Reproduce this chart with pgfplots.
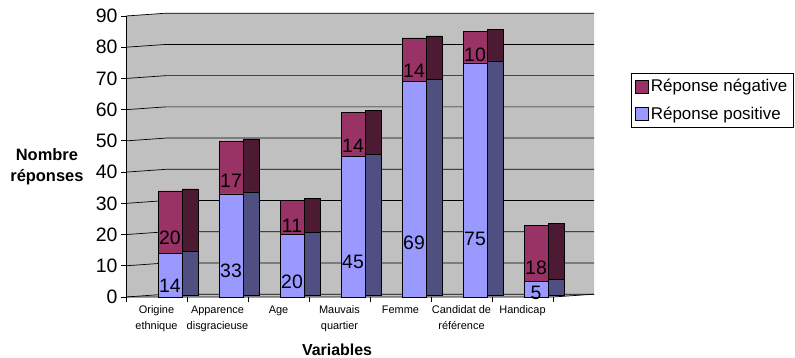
\documentclass[border=0pt]{standalone}
\usepackage{fontspec}
\setmainfont{Liberation Sans}
\usepackage{pgfplots}
\usepackage{pgfplotstable}
\pgfplotsset{compat=1.18}
\pgfkeys{/pgf/number format/assume math mode=true}

\definecolor{wall}{HTML}{C0C0C0}
\definecolor{posfront}{HTML}{9999FF}
\definecolor{posside}{HTML}{4F4F82}
\definecolor{negfront}{HTML}{993366}
\definecolor{negside}{HTML}{4D1A33}

% positive / negative answers per variable
\pgfplotstableread{
idx pos neg
0   14  20
1   33  17
2   20  11
3   45  14
4   69  14
5   75  10
6    5  18
}\reponses

\pgfplotsset{
  frame3d/.style={
    scale only axis, width=468bp, height=281bp, anchor=south west,
    xmin=-0.5, xmax=7.172, ymin=0, ymax=90, clip=false},
}

\begin{document}
\begin{tikzpicture}
\path[use as bounding box] (0,0) rectangle (795bp,-358bp);

% back wall, floor and gridlines with their depth offset
\begin{axis}[frame3d, at={(126bp,-297bp)}, hide axis]
  \fill[wall] (axis cs:-0.5,0) -- (axis cs:-0.5,90) -- (axis cs:0.156,90.9)
    -- (axis cs:7.172,90.9) -- (axis cs:7.172,0.9) -- (axis cs:6.5,0) -- cycle;
  \pgfplotsinvokeforeach{0,10,...,90}{
    \draw[black, line width=0.7bp] (axis cs:-0.5,#1) -- (axis cs:0.156,#1.9) -- (axis cs:7.172,#1.9);
  }
  \draw[black, line width=0.7bp] (axis cs:-0.5,0) -- (axis cs:6.5,0) -- (axis cs:7.172,0.9);
\end{axis}

% side faces of the columns
\begin{axis}[frame3d, at={(126bp,-295bp)}, hide axis, ybar stacked, bar width=16bp]
  \addplot[fill=posside, draw=black, line width=0.6bp, bar shift=33.5bp]
    table[x=idx, y=pos]{\reponses};
  \addplot[fill=negside, draw=black, line width=0.6bp, bar shift=33.5bp]
    table[x=idx, y=neg]{\reponses};
\end{axis}

% front faces, axes, labels and legend
\begin{axis}[frame3d, at={(126bp,-297bp)},
  ybar stacked, bar width=24bp,
  axis y line*=left, axis x line*=bottom,
  x axis line style={draw=none},
  y axis line style={black, line width=0.8bp},
  tick align=outside, major tick length=5bp, minor tick length=5bp,
  tick style={black, line width=0.8bp},
  ytick={0,10,...,90},
  yticklabel style={font=\fontsize{19.5}{21}\selectfont},
  xtick={0,1,2,3,4,5,6},
  xticklabels={{Origine\\ethnique},{Apparence\\disgracieuse},{Age},{Mauvais\\quartier},{Femme},{Candidat de\\référence},{Handicap}},
  xticklabel style={align=center, anchor=north, font=\fontsize{11}{16}\selectfont},
  major x tick style={draw=none},
  minor xtick={-0.5,0.5,...,6.5},
  xlabel={Variables},
  xlabel style={at={(axis description cs:0.451,-0.189)}, anchor=center,
    font=\bfseries\fontsize{16}{18}\selectfont},
  ylabel={Nombre\\réponses},
  ylabel style={at={(axis description cs:-0.169,0.463)}, rotate=-90, anchor=center,
    align=center, font=\bfseries\fontsize{16.5}{21}\selectfont},
  reverse legend,
  legend cell align=left,
  legend image code/.code={\draw[#1, draw=black, line width=0.6bp] (0bp,-6.5bp) rectangle (13bp,6.5bp);},
  legend style={at={(1.079,0.797)}, anchor=north west, draw=black, line width=0.6bp,
    font=\fontsize{17}{19}\selectfont, inner xsep=4bp, inner ysep=4bp, row sep=10bp},
  nodes near coords,
  point meta=explicit,
  nodes near coords style={font=\fontsize{19.5}{21}\selectfont, text=black},
]
  \addplot[fill=posfront, draw=black, line width=0.6bp, bar shift=13.5bp,
    visualization depends on={\thisrow{pos} \as \seg},
    every node near coord/.append style={anchor=center, yshift=-0.25*\seg*3.1222bp}]
    table[x=idx, y=pos, meta=pos]{\reponses};
  \addlegendentry{Réponse positive}
  \addplot[fill=negfront, draw=black, line width=0.6bp, bar shift=13.5bp,
    visualization depends on={\thisrow{neg} \as \seg},
    every node near coord/.append style={anchor=center, yshift=-0.25*\seg*3.1222bp}]
    table[x=idx, y=neg, meta=neg]{\reponses};
  \addlegendentry{Réponse négative}
\end{axis}
\end{tikzpicture}
\end{document}
